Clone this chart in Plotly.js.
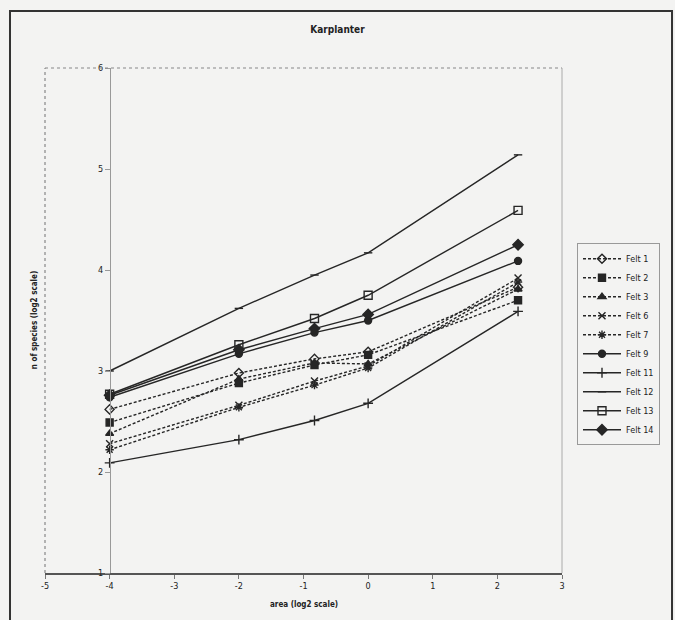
<!DOCTYPE html>
<html>
<head>
<meta charset="utf-8">
<script src="https://cdn.plot.ly/plotly-3.0.1.min.js"></script>
<style>
  html, body { margin: 0; padding: 0; background: #f3f3f2; }
  #chart { width: 675px; height: 620px; }
</style>
</head>
<body>
<div id="chart"></div>
<script>
// area (log2 scale)
const areaLog2 = [-4, -2, -0.83, 0, 2.32];

const seriesNames = ["Felt 1", "Felt 2", "Felt 3", "Felt 6", "Felt 7",
                     "Felt 9", "Felt 11", "Felt 12", "Felt 13", "Felt 14"];

// n of species (log2 scale)
const felt1  = [2.62, 2.98, 3.12, 3.19, 3.83];
const felt2  = [2.49, 2.88, 3.06, 3.16, 3.70];
const felt3  = [2.38, 2.92, 3.08, 3.07, 3.81];
const felt6  = [2.28, 2.66, 2.90, 3.05, 3.92];
const felt7  = [2.22, 2.64, 2.86, 3.03, 3.88];
const felt9  = [2.74, 3.17, 3.38, 3.50, 4.09];
const felt11 = [2.09, 2.32, 2.51, 2.68, 3.59];
const felt12 = [3.00, 3.62, 3.95, 4.17, 5.14];
const felt13 = [2.77, 3.26, 3.52, 3.75, 4.59];
const felt14 = [2.76, 3.21, 3.42, 3.56, 4.25];

const xTicks = [-5, -4, -3, -2, -1, 0, 1, 2, 3];
const yTicks = [1, 2, 3, 4, 5, 6];

const values = [felt1, felt2, felt3, felt6, felt7, felt9, felt11, felt12, felt13, felt14];

const styles = [
  {dash: "3px,2px", symbol: "diamond-open", size: 7},
  {dash: "3px,2px", symbol: "square", size: 7},
  {dash: "3px,2px", symbol: "triangle-up", size: 7},
  {dash: "3px,2px", symbol: "x-thin-open", size: 7},
  {dash: "3px,2px", symbol: "asterisk-open", size: 7},
  {dash: "solid", symbol: "circle", size: 7},
  {dash: "solid", symbol: "cross-thin-open", size: 7},
  {dash: "solid", symbol: "line-ew-open", size: 6},
  {dash: "solid", symbol: "square-open", size: 8},
  {dash: "solid", symbol: "diamond", size: 8}
];

const ink = "#262626";
const traces = seriesNames.map((name, i) => ({
  type: "scatter",
  mode: "lines+markers",
  name: name,
  x: areaLog2,
  y: values[i],
  line: {color: ink, width: 1.4, dash: styles[i].dash},
  marker: {
    symbol: styles[i].symbol,
    size: styles[i].size,
    color: ink,
    line: {color: ink, width: 1.4}
  }
}));

const bg = "#f3f3f2";
const font = "'DejaVu Sans Condensed', 'DejaVu Sans', sans-serif";
const txt = "#222222";

const layout = {
  width: 675,
  height: 620,
  paper_bgcolor: bg,
  plot_bgcolor: bg,
  margin: {l: 45, r: 113, t: 68, b: 47},
  showlegend: true,
  font: {family: font, size: 9, color: txt},
  title: {
    text: "<b>Karplanter</b>",
    font: {family: font, size: 10, color: txt},
    x: 0.5, xref: "container",
    y: 0.952, yref: "container", yanchor: "middle"
  },
  xaxis: {
    range: [-5, 3],
    tickvals: xTicks,
    ticktext: xTicks.map(String),
    showgrid: false,
    zeroline: false,
    showline: true,
    linecolor: "#555",
    linewidth: 1.5,
    ticks: "outside",
    ticklen: 4,
    tickcolor: "#777",
    tickfont: {family: font, size: 9, color: txt},
    fixedrange: true
  },
  yaxis: {
    range: [1, 6],
    tickvals: yTicks,
    ticktext: yTicks.map(String),
    anchor: "free",
    position: 0.1257,
    showgrid: false,
    zeroline: false,
    showline: true,
    linecolor: "#999",
    linewidth: 1,
    ticks: "outside",
    ticklen: 5,
    tickcolor: "#999",
    tickfont: {family: font, size: 9, color: txt},
    fixedrange: true
  },
  legend: {
    x: 1.029, xanchor: "left",
    y: 0.653, yanchor: "top",
    bgcolor: bg,
    bordercolor: "#999",
    borderwidth: 1,
    itemwidth: 38,
    tracegroupgap: 0,
    font: {family: font, size: 9, color: txt}
  },
  annotations: [
    {
      text: "<b>n of species (log2 scale)</b>",
      xref: "paper", yref: "paper",
      x: -0.02, y: 0.5, xanchor: "center", yanchor: "middle",
      textangle: -90, showarrow: false,
      font: {family: font, size: 8, color: txt}
    },
    {
      text: "<b>area (log2 scale)</b>",
      xref: "paper", yref: "paper",
      x: 0.5, y: -0.063, xanchor: "center", yanchor: "middle",
      showarrow: false,
      font: {family: font, size: 8, color: txt}
    }
  ],
  shapes: [
    // dotted plot-area border (top and left)
    {type: "line", xref: "paper", yref: "paper", x0: 0, x1: 1, y0: 1, y1: 1,
     line: {color: "#888", width: 1.2, dash: "dot"}},
    {type: "line", xref: "paper", yref: "paper", x0: 0, x1: 0, y0: 0, y1: 1,
     line: {color: "#888", width: 1.2, dash: "dot"}},
    {type: "line", xref: "paper", yref: "paper", x0: 1, x1: 1, y0: 0, y1: 1,
     line: {color: "#aaa", width: 1}},
    // outer chart frame
    {type: "rect", xref: "paper", yref: "paper",
     x0: -0.0677, x1: 1.2128, y0: -0.11, y1: 1.113,
     line: {color: "#333", width: 2}, fillcolor: "rgba(0,0,0,0)", layer: "below"}
  ]
};

Plotly.newPlot("chart", traces, layout, {displayModeBar: false, staticPlot: true});
</script>
</body>
</html>
